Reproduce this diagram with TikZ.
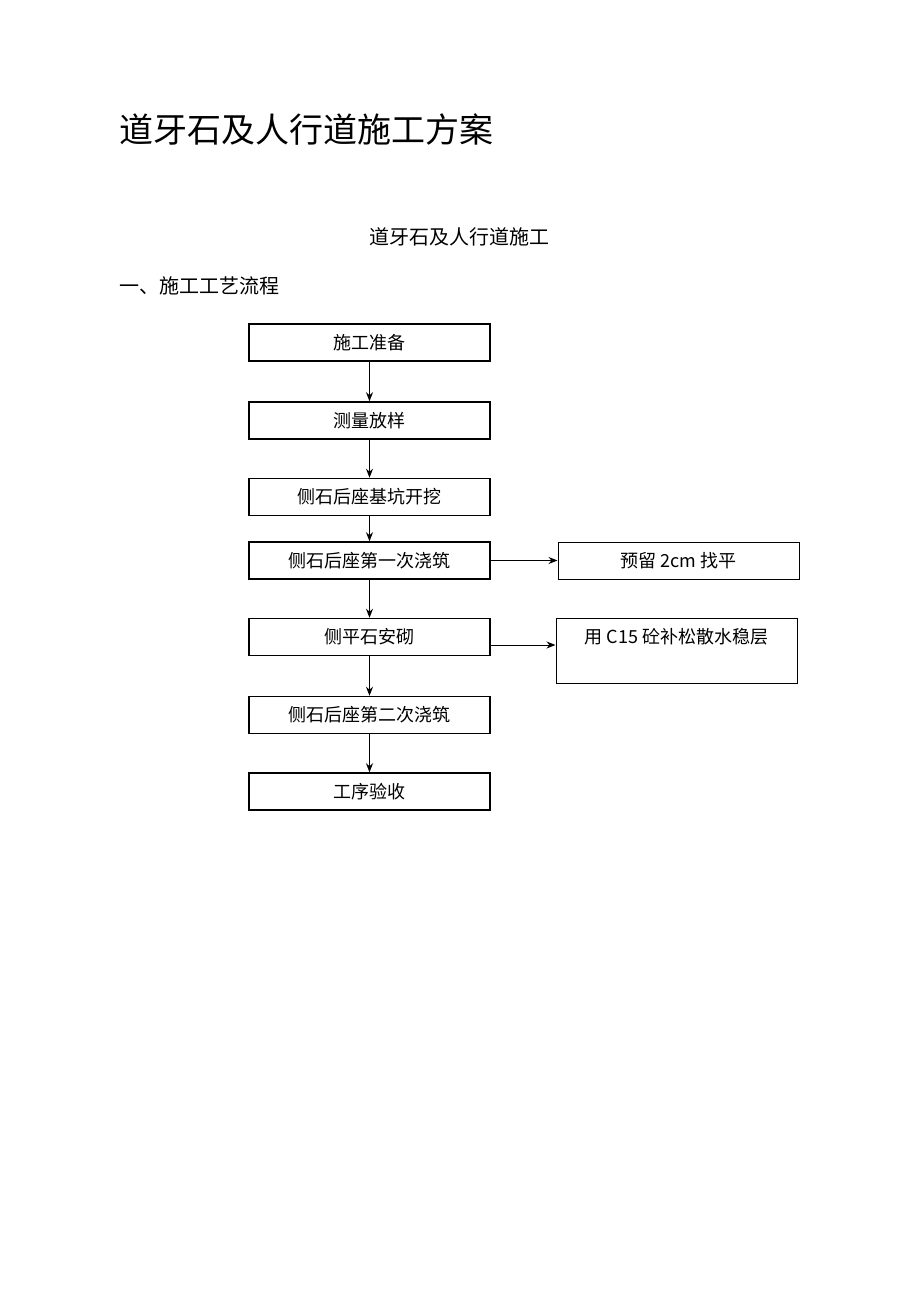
\documentclass[tikz,border=0pt]{standalone}
\usepackage{fontspec}
\setmainfont{Noto Sans CJK SC}
\usetikzlibrary{arrows.meta}
\begin{document}
\begin{tikzpicture}[x=1pt,y=-1pt,
  box/.style={draw,line width=1.5pt,minimum width=241pt,minimum height=37pt,inner sep=0pt,font=\fontsize{18}{20}\selectfont},
  arr/.style={-{Stealth[length=9pt,width=7pt]},line width=1pt}]
\useasboundingbox (0,0) rectangle (920,1301);
\node[anchor=west,font=\fontsize{34}{38}\selectfont] (title) at (116,130) {道牙石及人行道施工方案};
\node[font=\fontsize{20}{22}\selectfont] (sub) at (459,237) {道牙石及人行道施工};
\node[anchor=west,font=\fontsize{20}{22}\selectfont] (sec) at (116,286) {一、施工工艺流程};
\node[box] (b1) at (369.5,342.5) {施工准备};
\node[box] (b2) at (369.5,420.5) {测量放样};
\node[box] (b3) at (369.5,497) {侧石后座基坑开挖};
\node[box] (b4) at (369.5,560.5) {侧石后座第一次浇筑};
\node[box] (b5) at (369.5,637) {侧平石安砌};
\node[box] (b6) at (369.5,715) {侧石后座第二次浇筑};
\node[box] (b7) at (369.5,791.5) {工序验收};
\node[box,line width=1pt] (r1) at (678.5,560.5) {预留 2cm 找平};
\node[draw,line width=1pt,minimum width=241pt,minimum height=65pt,inner sep=0pt] (r2) at (676.5,650.5) {};
\node[font=\fontsize{18}{20}\selectfont] (r2t) at (676.5,637) {用 C15 砼补松散水稳层};
\draw[arr] (b1) -- (b2);
\draw[arr] (b2) -- (b3);
\draw[arr] (b3) -- (b4);
\draw[arr] (b4) -- (b5);
\draw[arr] (b5) -- (b6);
\draw[arr] (b6) -- (b7);
\draw[arr] (b4.east) -- (r1.west);
\draw[arr] (b5.east |- 0,645) -- (r2.west |- 0,645);
\end{tikzpicture}
\end{document}
